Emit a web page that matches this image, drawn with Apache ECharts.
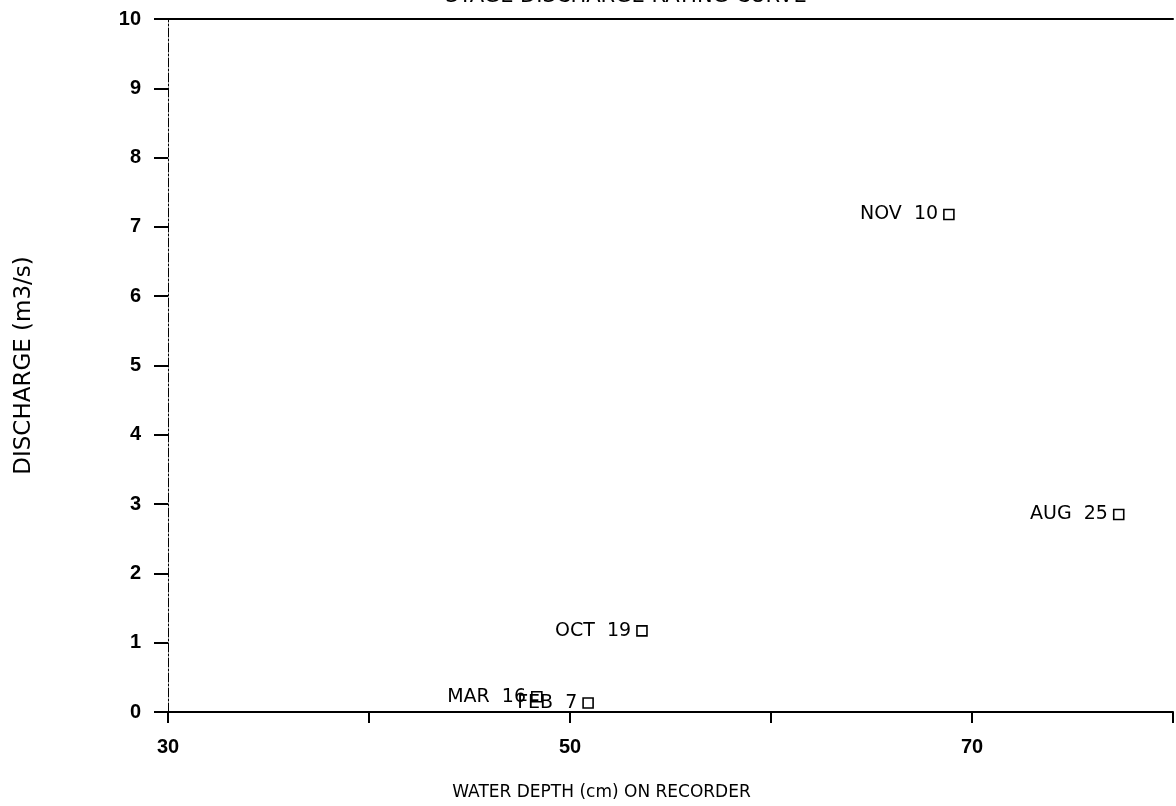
<!DOCTYPE html>
<html>
<head>
<meta charset="utf-8">
<title>Stage discharge rating curve</title>
<script src="https://cdn.jsdelivr.net/npm/echarts@6/dist/echarts.min.js"></script>
<style>
  html, body { margin: 0; padding: 0; background: #fff; }
  #chart { width: 1176px; height: 806px; }
</style>
</head>
<body>
<div id="chart"></div>
<script>
// measurement dates, water depth on recorder (cm) and discharge (m3/s)
const dateLabels = ['MAR  16', 'FEB  7', 'OCT  19', 'NOV  10', 'AUG  25'];
const depths = [48.35, 50.9, 53.58, 68.85, 77.3];
const discharges = [0.22, 0.13, 1.17, 7.18, 2.85];

const xLabelsShown = [30, 50, 70];
const yTicks = [0, 1, 2, 3, 4, 5, 6, 7, 8, 9, 10];

const font = '"Liberation Sans", Arial, Helvetica, sans-serif';
const wideFont = '"DejaVu Sans", Verdana, sans-serif';
const chart = echarts.init(document.getElementById('chart'));

const points = depths.map((d, i) => [d, discharges[i], dateLabels[i]]);

chart.setOption({
  animation: false,
  backgroundColor: '#fff',
  title: {
    text: 'STAGE DISCHARGE RATING CURVE',
    left: 621,
    top: -19,
    textAlign: 'center',
    textStyle: { fontFamily: wideFont, fontSize: 21, fontWeight: 'normal', color: '#000' },
  },
  grid: { left: 168, right: 0, top: 19, bottom: 94 },
  xAxis: [
    {
      type: 'value',
      min: 30,
      max: 80,
      interval: 10,
      splitLine: { show: false },
      axisLine: { onZero: false, lineStyle: { color: '#000', width: 2 } },
      axisTick: { inside: false, length: 11, lineStyle: { color: '#000', width: 2 } },
      axisLabel: {
        margin: 25,
        color: '#000',
        fontFamily: font,
        fontSize: 20,
        fontWeight: 'bold',
        formatter: (v) => (xLabelsShown.includes(v) ? String(v) : ''),
      },
      name: 'WATER DEPTH (cm) ON RECORDER',
      nameLocation: 'middle',
      nameGap: 72,
      nameTextStyle: {
        color: '#000',
        fontFamily: wideFont,
        fontSize: 17,
        padding: [0, 138, 0, 0],
      },
    },
    {
      type: 'value',
      position: 'top',
      min: 30,
      max: 80,
      interval: 10,
      splitLine: { show: false },
      axisLine: { onZero: false, lineStyle: { color: '#000', width: 2 } },
      axisTick: { show: false },
      axisLabel: { show: false },
    },
  ],
  yAxis: {
    type: 'value',
    min: yTicks[0],
    max: yTicks[yTicks.length - 1],
    interval: 1,
    splitLine: { show: false },
    axisLine: { onZero: false, lineStyle: { color: '#000', width: 1, type: [9, 2, 2, 2] } },
    axisTick: { length: 14, lineStyle: { color: '#000', width: 2 } },
    axisLabel: {
      margin: 27,
      color: '#000',
      fontFamily: font,
      fontSize: 20,
      fontWeight: 'bold',
    },
    name: 'DISCHARGE (m3/s)',
    nameLocation: 'middle',
    nameGap: 132,
    nameRotate: 90,
    nameTextStyle: { color: '#000', fontFamily: wideFont, fontSize: 23 },
  },
  series: [
    {
      type: 'scatter',
      data: points,
      symbol: 'rect',
      symbolSize: 10,
      itemStyle: { color: '#fff', borderColor: '#000', borderWidth: 1.6, opacity: 1 },
      label: {
        show: true,
        position: 'left',
        distance: 5,
        color: '#000',
        fontFamily: wideFont,
        fontSize: 19,
        formatter: (p) => p.value[2],
      },
      labelLayout: { hideOverlap: false },
    },
  ],
});
</script>
</body>
</html>
